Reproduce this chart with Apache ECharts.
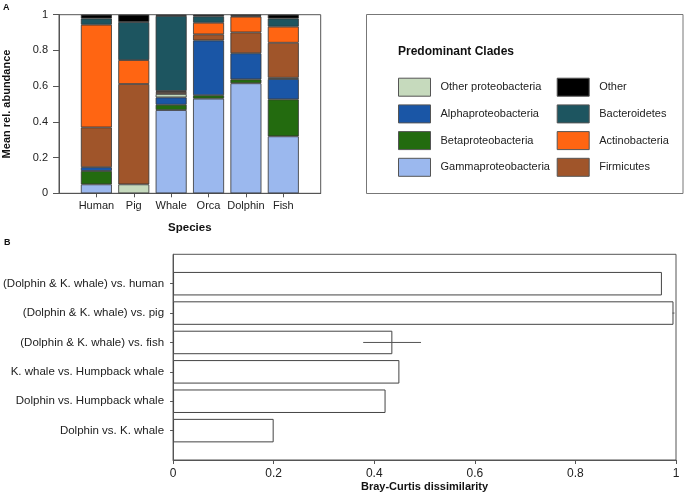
<!DOCTYPE html>
<html>
<head>
<meta charset="utf-8">
<script src="https://cdn.jsdelivr.net/npm/echarts@6/dist/echarts.min.js"></script>
<style>html,body{margin:0;padding:0;background:#fff;}#c{width:685px;height:495px;}</style>
</head>
<body>
<div id="c"></div>
<script>
// ---- Panel A data ----
var species = ['Human', 'Pig', 'Whale', 'Orca', 'Dolphin', 'Fish'];
var gammaproteobacteria = [0.050, 0.000, 0.466, 0.530, 0.616, 0.319];
var betaproteobacteria  = [0.075, 0.000, 0.030, 0.019, 0.022, 0.207];
var alphaproteobacteria = [0.021, 0.000, 0.041, 0.307, 0.146, 0.114];
var otherProteobacteria = [0.000, 0.050, 0.019, 0.000, 0.000, 0.007];
var firmicutes          = [0.223, 0.562, 0.011, 0.034, 0.117, 0.196];
var actinobacteria      = [0.575, 0.134, 0.006, 0.065, 0.088, 0.090];
var bacteroidetes       = [0.035, 0.213, 0.420, 0.036, 0.005, 0.046];
var other               = [0.021, 0.041, 0.007, 0.009, 0.006, 0.021];
var abundanceTicks = [0, 0.2, 0.4, 0.6, 0.8, 1];

// ---- Panel B data ----
var comparisons = ['(Dolphin & K. whale) vs. human', '(Dolphin & K. whale) vs. pig', '(Dolphin & K. whale) vs. fish',
  'K. whale vs. Humpback whale', 'Dolphin vs. Humpback whale', 'Dolphin vs. K. whale'];
var dissimilarity = [0.972, 0.995, 0.436, 0.450, 0.4225, 0.200];
var errLow  = [null, 0.993, 0.378, null, null, null];
var errHigh = [null, 0.997, 0.493, null, null, null];
var dissimTicks = [0, 0.2, 0.4, 0.6, 0.8, 1];

var FONT = 'Liberation Sans';
var clades = [
  {name: 'Gammaproteobacteria', data: gammaproteobacteria, color: '#9bb8ee'},
  {name: 'Betaproteobacteria', data: betaproteobacteria, color: '#236b0f'},
  {name: 'Alphaproteobacteria', data: alphaproteobacteria, color: '#1a56a6'},
  {name: 'Other proteobacteria', data: otherProteobacteria, color: '#c6dabd'},
  {name: 'Firmicutes', data: firmicutes, color: '#a0552a'},
  {name: 'Actinobacteria', data: actinobacteria, color: '#ff6512'},
  {name: 'Bacteroidetes', data: bacteroidetes, color: '#1d5560'},
  {name: 'Other', data: other, color: '#000000'}
];

var catA = [''].concat(species, ['']);
var catB = [''].concat(comparisons, ['']);
function pad(a){ return ['-'].concat(a.map(function(v){return v === 0 ? '-' : v;}), ['-']); }

var series = clades.map(function(c){
  return {
    name: c.name, type: 'bar', stack: 'a', xAxisIndex: 0, yAxisIndex: 0,
    barWidth: 31, data: pad(c.data),
    itemStyle: {color: c.color, borderColor: '#333', borderWidth: 0.8},
    emphasis: {disabled: true}
  };
});

series.push({
  type: 'bar', xAxisIndex: 1, yAxisIndex: 1, barWidth: 23.5,
  data: ['-'].concat(dissimilarity, ['-']),
  itemStyle: {color: '#fff', borderColor: '#444', borderWidth: 1},
  emphasis: {disabled: true}
});

var errData = [];
for (var i = 0; i < comparisons.length; i++) {
  if (errLow[i] != null) errData.push([errLow[i], errHigh[i], i + 1]);
}
series.push({
  type: 'custom', xAxisIndex: 1, yAxisIndex: 1, z: 5,
  encode: {x: [0, 1], y: 2},
  data: errData,
  renderItem: function(params, api){
    var lo = api.coord([api.value(0), api.value(2)]);
    var hi = api.coord([api.value(1), api.value(2)]);
    return {type: 'line', shape: {x1: lo[0], y1: lo[1], x2: hi[0], y2: hi[1]},
      style: {stroke: '#555', lineWidth: 1}};
  }
});

var legendBase = {
  orient: 'vertical', icon: 'rect', itemWidth: 32, itemHeight: 18, itemGap: 7.7, padding: 0,
  itemStyle: {borderColor: '#555', borderWidth: 1},
  textStyle: {fontFamily: FONT, fontSize: 11, color: '#222', padding: [0, 0, 0, 5]},
  selectedMode: false
};

var option = {
  animation: false,
  backgroundColor: '#fff',
  textStyle: {fontFamily: FONT},
  title: [
    {text: 'A', left: 3, top: 3, padding: 0, textStyle: {fontFamily: FONT, fontSize: 9, fontWeight: 'bold', color: '#111'}},
    {text: 'B', left: 4, top: 238, padding: 0, textStyle: {fontFamily: FONT, fontSize: 9, fontWeight: 'bold', color: '#111'}},
    {text: 'Predominant Clades', left: 398, top: 46, padding: 0, textStyle: {fontFamily: FONT, fontSize: 12, fontWeight: 'bold', color: '#111'}}
  ],
  graphic: [{
    type: 'rect', shape: {x: 366.5, y: 14.5, width: 316.5, height: 179},
    style: {fill: 'none', stroke: '#777', lineWidth: 1}, silent: true
  }],
  legend: [
    Object.assign({}, legendBase, {left: 398, top: 77.7,
      data: ['Other proteobacteria', 'Alphaproteobacteria', 'Betaproteobacteria', 'Gammaproteobacteria']}),
    Object.assign({}, legendBase, {left: 556.7, top: 77.7,
      data: ['Other', 'Bacteroidetes', 'Actinobacteria', 'Firmicutes']})
  ],
  grid: [
    {left: 46, top: 14.7, width: 274.7, height: 178.6, show: true, borderColor: '#555', borderWidth: 1, backgroundColor: 'transparent'},
    {left: 169.3, top: 254.3, width: 506.7, height: 205.7, show: true, borderColor: '#555', borderWidth: 1, backgroundColor: 'transparent'}
  ],
  xAxis: [
    {gridIndex: 0, type: 'category', data: catA, boundaryGap: false,
     axisLine: {lineStyle: {color: '#555'}},
     axisTick: {length: 4, lineStyle: {color: '#555'}, interval: function(idx){ return idx > 0 && idx < catA.length - 1; }},
     axisLabel: {fontFamily: FONT, fontSize: 11, color: '#222', margin: 7, interval: 0},
     name: 'Species', nameLocation: 'middle', nameGap: 29,
     nameTextStyle: {fontFamily: FONT, fontSize: 11.5, fontWeight: 'bold', color: '#111'}},
    {gridIndex: 1, type: 'value', min: dissimTicks[0], max: dissimTicks[dissimTicks.length - 1], interval: 0.2,
     splitLine: {show: false},
     axisLine: {show: true, lineStyle: {color: '#555'}},
     axisTick: {show: true, length: 4, lineStyle: {color: '#555'}},
     axisLabel: {fontFamily: FONT, fontSize: 12, color: '#222', margin: 8},
     name: 'Bray-Curtis dissimilarity', nameLocation: 'middle', nameGap: 21,
     nameTextStyle: {fontFamily: FONT, fontSize: 11, fontWeight: 'bold', color: '#111'}}
  ],
  yAxis: [
    {gridIndex: 0, type: 'value', min: abundanceTicks[0], max: abundanceTicks[abundanceTicks.length - 1], interval: 0.2,
     splitLine: {show: false},
     axisLine: {show: true, lineStyle: {color: '#555'}},
     axisTick: {show: true, length: 6, lineStyle: {color: '#555'}},
     axisLabel: {fontFamily: FONT, fontSize: 11, color: '#222', margin: 11},
     name: 'Mean rel. abundance', nameLocation: 'middle', nameGap: 31,
     nameTextStyle: {fontFamily: FONT, fontSize: 11, fontWeight: 'bold', color: '#111', padding: [0, 0, 16, 0]}},
    {gridIndex: 1, type: 'category', data: catB, inverse: true, boundaryGap: false,
     axisLine: {lineStyle: {color: '#555'}},
     axisTick: {length: 3, lineStyle: {color: '#555'}, interval: function(idx){ return idx > 0 && idx < catB.length - 1; }},
     axisLabel: {fontFamily: FONT, fontSize: 11.5, color: '#222', margin: 9, interval: 0}}
  ],
  series: series
};

var chart = echarts.init(document.getElementById('c'), null, {renderer: 'canvas'});
chart.setOption(option);
</script>
</body>
</html>
